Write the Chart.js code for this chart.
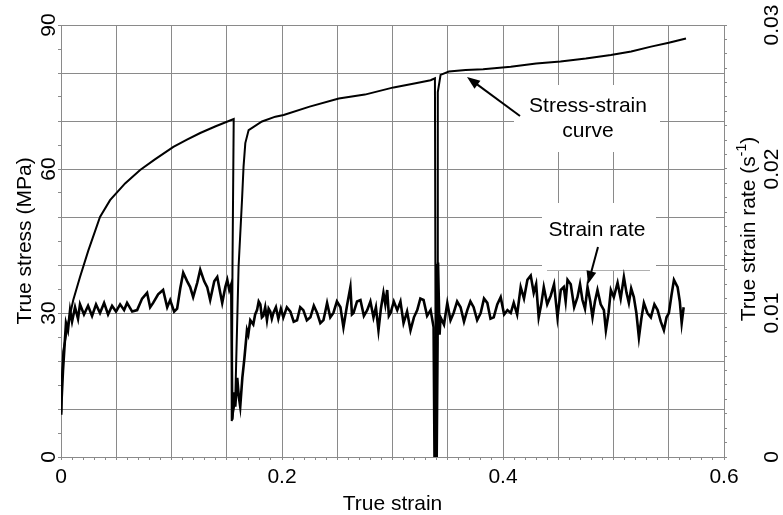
<!DOCTYPE html>
<html>
<head>
<meta charset="utf-8">
<script src="https://cdn.jsdelivr.net/npm/chart.js@4.4.1/dist/chart.umd.min.js"></script>
<style>
  html, body { margin: 0; padding: 0; background: #fff; }
  canvas { display: block; }
</style>
</head>
<body>
<canvas id="grafico" width="783" height="515"></canvas>
<script>
// Curva tensión-deformación (MPa)
const stressStrain = [0, 0.0005, 0.002, 0.0066, 0.0111, 0.0172, 0.0247, 0.0353, 0.0444, 0.058, 0.0716, 0.085, 0.1017, 0.114, 0.126, 0.14, 0.1563,
    0.1552, 0.1545, 0.1577, 0.1607, 0.1638, 0.1652, 0.1668, 0.1698, 0.1819, 0.194, 0.2015, 0.225, 0.2514, 0.275, 0.301, 0.3209, 0.3345, 0.3384,
    0.3388, 0.3392, 0.3398, 0.3405, 0.341, 0.3435, 0.351, 0.3662, 0.382, 0.407, 0.43, 0.452, 0.475, 0.4976, 0.516, 0.534, 0.55, 0.5656];
const stressValue = [9, 15, 22, 28, 32.7, 37.5, 43, 50, 53.5, 57, 59.8, 62, 64.6, 66.1, 67.5, 68.9, 70.4,
    40, 7.5, 12, 39.6, 53.5, 60.5, 65.4, 68.1, 69.9, 70.9, 71.25, 73, 74.7, 75.5, 77, 77.85, 78.5, 78.9,
    40, -2, -2, 40, 76, 79.6, 80.3, 80.6, 80.8, 81.3, 82, 82.4, 83, 83.75, 84.5, 85.5, 86.3, 87.2];

// Velocidad de deformación (1/s)
const rateStrain = [0, 0.0018, 0.0045, 0.0063, 0.0082, 0.01, 0.0127, 0.0154, 0.0172, 0.0208, 0.0245, 0.0281, 0.0317, 0.0353, 0.039, 0.0426,
    0.0462, 0.0498, 0.0535, 0.0571, 0.0598, 0.0644, 0.0689, 0.0734, 0.0779, 0.0807, 0.0834, 0.0879, 0.0924, 0.0961, 0.0988, 0.1024, 0.1051,
    0.1079, 0.1106, 0.1142, 0.1169, 0.1196, 0.1233, 0.126, 0.1296, 0.1323, 0.135, 0.1387, 0.1414, 0.1441, 0.1459, 0.1487, 0.1505, 0.1523,
    0.1541, 0.155, 0.1563, 0.1577, 0.1595, 0.1609, 0.1622, 0.1641, 0.1659, 0.1683, 0.1695,
    0.1713, 0.174, 0.1757, 0.1774, 0.1789, 0.1804, 0.1818, 0.1831, 0.1848, 0.1864, 0.1879, 0.1894, 0.1908, 0.1922, 0.1945, 0.1967, 0.199,
    0.2012, 0.2044, 0.2076, 0.2106, 0.2136, 0.2165, 0.2193, 0.2225, 0.2257, 0.2288, 0.2318, 0.2347, 0.2375, 0.2392, 0.2408, 0.2437, 0.2465,
    0.2497, 0.2529, 0.2556, 0.2588, 0.2619, 0.2633, 0.2647, 0.2679, 0.271, 0.2741, 0.2771, 0.28, 0.2828, 0.285, 0.2873, 0.2895, 0.2918,
    0.2935, 0.2952, 0.2967, 0.2982, 0.3012, 0.3043, 0.3072, 0.31, 0.3132, 0.3163, 0.3194, 0.3224, 0.3252, 0.3281, 0.3313, 0.3345,
    0.3372, 0.3381, 0.3399, 0.3408, 0.3412, 0.3426,
    0.3435, 0.3466, 0.3496, 0.3525, 0.3553, 0.3585, 0.3616, 0.3647, 0.3677, 0.3705, 0.3734, 0.3766, 0.3798, 0.3828, 0.3858, 0.3887, 0.3916,
    0.3948, 0.3979, 0.401, 0.404,
    0.407, 0.4097, 0.4128, 0.416, 0.419, 0.4221, 0.4251, 0.4278, 0.43, 0.4323, 0.4346, 0.4369, 0.44, 0.4432, 0.4462, 0.4493, 0.4523, 0.455,
    0.4567, 0.4584, 0.4613, 0.4644, 0.4674, 0.4697, 0.4719, 0.4742, 0.4765, 0.479, 0.481, 0.4832, 0.4855, 0.4884, 0.4913, 0.4931, 0.4955,
    0.4976, 0.5003, 0.5037, 0.5065, 0.5094, 0.5118, 0.5139, 0.516, 0.5184, 0.5207, 0.523, 0.5252, 0.5275, 0.5307, 0.5338, 0.537, 0.5399,
    0.5428, 0.5456, 0.548, 0.5501, 0.5524, 0.5547, 0.558, 0.56, 0.5617, 0.5635];
const rateValue = [0.0031, 0.006, 0.0093, 0.0088, 0.0102, 0.0094, 0.0104, 0.0096, 0.0106, 0.0099, 0.0105, 0.0098, 0.0106, 0.01, 0.0107, 0.0099,
    0.0105, 0.0101, 0.0106, 0.0102, 0.0107, 0.0101, 0.0102, 0.011, 0.0114, 0.0104, 0.0107, 0.0113, 0.0116, 0.0104, 0.0109, 0.0101, 0.0103,
    0.0117, 0.0128, 0.0122, 0.0118, 0.0111, 0.0121, 0.013, 0.0122, 0.0118, 0.0109, 0.0122, 0.0125, 0.0114, 0.0107, 0.0118, 0.0123, 0.0116,
    0.012, 0.0026, 0.0045, 0.0035, 0.0055, 0.0042, 0.0035, 0.0055, 0.0068, 0.0088, 0.0085,
    0.0095, 0.0092, 0.0099, 0.0102, 0.0108, 0.0106, 0.0097, 0.0098, 0.0104, 0.0095, 0.0103, 0.0101, 0.0096, 0.01, 0.0104, 0.0096, 0.0103,
    0.0097, 0.0104, 0.0101, 0.0094, 0.0095, 0.0104, 0.0102, 0.0095, 0.0097, 0.0105, 0.01, 0.0093, 0.0095, 0.0101, 0.0107, 0.0097, 0.01,
    0.0108, 0.0104, 0.009, 0.0105, 0.0118, 0.0099, 0.01, 0.0108, 0.0109, 0.0098, 0.0102, 0.0108, 0.0097, 0.0104, 0.0088, 0.0103, 0.0114,
    0.0106, 0.0116, 0.0098, 0.01, 0.0108, 0.0102, 0.0108, 0.0093, 0.0101, 0.0088, 0.0097, 0.0102, 0.011, 0.0109, 0.0098, 0.0102,
    0.009, -0.001, -0.001, 0.008, 0.0135, 0.0085,
    0.0097, 0.0092, 0.0107, 0.0095, 0.01, 0.0108, 0.0104, 0.0094, 0.0102, 0.0108, 0.0104, 0.0095, 0.01, 0.011, 0.0107, 0.0096, 0.0097,
    0.0106, 0.0111, 0.0099, 0.0102,
    0.01, 0.0107, 0.0099, 0.0118, 0.011, 0.0123, 0.0126, 0.0114, 0.012, 0.0097, 0.0106, 0.0118, 0.0106, 0.0112, 0.012, 0.0097, 0.0116, 0.0118,
    0.0108, 0.0123, 0.012, 0.0104, 0.0111, 0.012, 0.0109, 0.0103, 0.0118, 0.0108, 0.0097, 0.0108, 0.0116, 0.0106, 0.0102, 0.0088, 0.01,
    0.0116, 0.0111, 0.0121, 0.011, 0.0125, 0.0114, 0.0107, 0.0117, 0.0111, 0.01, 0.0083, 0.0096, 0.0107, 0.01, 0.0097, 0.0106, 0.0102,
    0.0094, 0.0088, 0.0097, 0.01, 0.0112, 0.0123, 0.0118, 0.0108, 0.0093, 0.0104];

// Etiquetas de los ejes
const strainLabels = [0, 0.2, 0.4, 0.6];
const stressLabels = [0, 30, 60, 90];
const rateLabels = [0, 0.01, 0.02, 0.03];

const gris = "#8a8a8a";
const fuente = { family: "'Liberation Sans', Arial, sans-serif", size: 21 };

function esEtiqueta(v, lista) {
    return lista.some((l) => Math.abs(l - v) < 1e-9);
}
function multiplo(v, paso) {
    const q = v / paso;
    return Math.abs(q - Math.round(q)) < 1e-6;
}
function sinRelleno(s) {
    s.paddingTop = 0;
    s.paddingBottom = 0;
}

// Flecha con punta rellena
function flecha(ctx, x1, y1, x2, y2) {
    const ang = Math.atan2(y2 - y1, x2 - x1);
    const largo = 13, ancho = 5;
    ctx.beginPath();
    ctx.moveTo(x1, y1);
    ctx.lineTo(x2 - Math.cos(ang) * largo * 0.8, y2 - Math.sin(ang) * largo * 0.8);
    ctx.lineWidth = 2;
    ctx.strokeStyle = "#000";
    ctx.stroke();
    ctx.beginPath();
    ctx.moveTo(x2, y2);
    ctx.lineTo(x2 - Math.cos(ang) * largo + Math.sin(ang) * ancho, y2 - Math.sin(ang) * largo - Math.cos(ang) * ancho);
    ctx.lineTo(x2 - Math.cos(ang) * largo - Math.sin(ang) * ancho, y2 - Math.sin(ang) * largo + Math.cos(ang) * ancho);
    ctx.closePath();
    ctx.fillStyle = "#000";
    ctx.fill();
}

// Rótulos, flechas y título del eje derecho
const anotaciones = {
    id: "anotaciones",
    beforeDatasetsDraw(chart) {
        const ctx = chart.ctx;
        ctx.save();
        ctx.fillStyle = "#fff";
        ctx.fillRect(514, 85, 146, 67);
        ctx.fillRect(542, 203, 114, 67);
        ctx.strokeStyle = "#b0b0b0";
        ctx.lineWidth = 1;
        ctx.beginPath();
        ctx.moveTo(547, 270.5);
        ctx.lineTo(650, 270.5);
        ctx.stroke();

        ctx.fillStyle = "#000";
        ctx.font = "21px 'Liberation Sans', Arial, sans-serif";
        ctx.textAlign = "center";
        ctx.textBaseline = "middle";
        ctx.fillText("Stress-strain", 588, 106);
        ctx.fillText("curve", 588, 131);
        ctx.fillText("Strain rate", 597, 230);

        flecha(ctx, 520, 116, 467, 77);
        flecha(ctx, 598, 247, 588, 284);
        ctx.restore();
    },
    afterDraw(chart) {
        const ctx = chart.ctx;
        ctx.save();
        ctx.translate(749, 229);
        ctx.rotate(-Math.PI / 2);
        ctx.fillStyle = "#000";
        ctx.textBaseline = "middle";
        ctx.textAlign = "left";
        const f1 = "21px 'Liberation Sans', Arial, sans-serif";
        const f2 = "14px 'Liberation Sans', Arial, sans-serif";
        const t1 = "True strain rate (s", t2 = "-1", t3 = ")";
        ctx.font = f1;
        const w1 = ctx.measureText(t1).width, w3 = ctx.measureText(t3).width;
        ctx.font = f2;
        const w2 = ctx.measureText(t2).width;
        let x = -(w1 + w2 + w3) / 2;
        ctx.font = f1;
        ctx.fillText(t1, x, 0);
        x += w1;
        ctx.font = f2;
        ctx.fillText(t2, x, -7);
        x += w2;
        ctx.font = f1;
        ctx.fillText(t3, x, 0);
        ctx.restore();
    }
};

document.addEventListener("DOMContentLoaded", () => {
    const ctx = document.getElementById("grafico").getContext("2d");
    new Chart(ctx, {
        type: "line",
        data: {
            datasets: [{
                label: "Stress-strain curve",
                data: stressStrain.map((s, i) => ({ x: s, y: stressValue[i] })),
                yAxisID: "y",
                borderColor: "#000",
                borderWidth: 2,
                pointRadius: 0,
                tension: 0
            }, {
                label: "Strain rate",
                data: rateStrain.map((s, i) => ({ x: s, y: rateValue[i] })),
                yAxisID: "y1",
                borderColor: "#000",
                borderWidth: 2.6,
                pointRadius: 0,
                tension: 0
            }]
        },
        options: {
            responsive: false,
            animation: false,
            devicePixelRatio: 1,
            layout: { padding: { top: 25, left: 0, right: 0, bottom: 0 } },
            plugins: { legend: { display: false }, tooltip: { enabled: false } },
            scales: {
                x: {
                    type: "linear",
                    min: 0,
                    max: 0.6,
                    afterFit: (s) => { s.height = 58; s.paddingLeft = 0; s.paddingRight = 0; },
                    ticks: {
                        stepSize: 0.01,
                        autoSkip: false,
                        maxRotation: 0,
                        minRotation: 0,
                        padding: 5,
                        color: "#000",
                        font: fuente,
                        callback: (v) => esEtiqueta(v, strainLabels) ? String(v) : ""
                    },
                    grid: {
                        color: (c) => multiplo(c.tick.value, 0.05) ? gris : "rgba(0,0,0,0)",
                        tickColor: gris,
                        tickLength: 3
                    },
                    border: { color: gris },
                    title: { display: true, text: "True strain", color: "#000", font: fuente, padding: { top: 0, bottom: -2 } }
                },
                y: {
                    position: "left",
                    min: 0,
                    max: 90,
                    afterFit: (s) => { s.width = 61; sinRelleno(s); },
                    ticks: {
                        stepSize: 5,
                        autoSkip: false,
                        minRotation: 90,
                        maxRotation: 90,
                        crossAlign: "center",
                        padding: -3,
                        color: "#000",
                        font: fuente,
                        callback: (v) => esEtiqueta(v, stressLabels) ? String(v) : ""
                    },
                    grid: {
                        color: (c) => multiplo(c.tick.value, 10) ? gris : "rgba(0,0,0,0)",
                        tickColor: gris,
                        tickLength: 3
                    },
                    border: { color: gris },
                    title: { display: true, text: "True stress (MPa)", color: "#000", font: fuente, padding: { top: 13, bottom: 0 } }
                },
                y1: {
                    position: "right",
                    min: 0,
                    max: 0.03,
                    afterFit: (s) => { s.width = 59; sinRelleno(s); },
                    ticks: {
                        stepSize: 0.001,
                        autoSkip: false,
                        minRotation: 90,
                        maxRotation: 90,
                        crossAlign: "center",
                        padding: 25,
                        color: "#000",
                        font: fuente,
                        callback: (v) => esEtiqueta(v, rateLabels) ? (v === 0 ? "0" : v.toFixed(2)) : ""
                    },
                    grid: { drawOnChartArea: false, tickColor: gris, tickLength: 3 },
                    border: { color: gris }
                }
            }
        },
        plugins: [anotaciones]
    });
});
</script>
</body>
</html>
